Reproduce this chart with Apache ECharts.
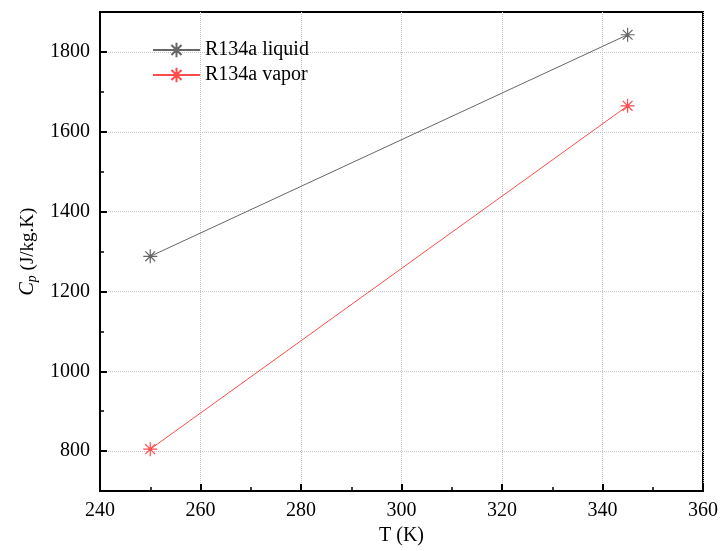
<!DOCTYPE html>
<html>
<head>
<meta charset="utf-8">
<script src="https://cdn.jsdelivr.net/npm/echarts@6/dist/echarts.min.js"></script>
<style>
  html, body { margin: 0; padding: 0; background: #fff; }
  #chart { width: 721px; height: 551px; }
</style>
</head>
<body>
<div id="chart"></div>
<script>
// Specific heat of R134a versus temperature
const temperatures = [250, 345];
const liquidCp = [1288, 1843];
const vaporCp = [805, 1665];
const xTicks = [240, 260, 280, 300, 320, 340, 360];
const yTicks = [800, 1000, 1200, 1400, 1600, 1800];
const yMinorTicks = [700, 900, 1100, 1300, 1500, 1700, 1900];

// asterisk marker drawn as strokes
const asterisk = 'path://M10,0 L10,20 M0,10 L20,10 M3,3 L17,17 M17,3 L3,17 M9,9 L11,9 L11,11 L9,11 Z';

const font = '"Liberation Serif", "Times New Roman", serif';

function pairs(xs, ys) { return xs.map((x, i) => [x, ys[i]]); }

function makeSeries(name, values, color) {
  return {
    name: name,
    type: 'line',
    data: pairs(temperatures, values),
    symbol: asterisk,
    symbolSize: 14,
    showSymbol: true,
    lineStyle: { color: color, width: 1 },
    itemStyle: { color: color, borderColor: color, borderWidth: 1.2 },
    emphasis: { disabled: true },
    z: 3
  };
}

const chart = echarts.init(document.getElementById('chart'), null, { renderer: 'canvas' });
chart.setOption({
  animation: false,
  backgroundColor: '#fff',
  grid: { left: 100, right: 17, top: 12, bottom: 57, show: true, borderColor: '#000', borderWidth: 2, backgroundColor: 'transparent' },
  legend: {
    orient: 'vertical',
    left: 147, top: 35,
    itemWidth: 47, itemHeight: 18, itemGap: 5,
    textStyle: { fontFamily: font, fontSize: 20, color: '#000', padding: [0, 0, 0, 0] },
    data: ['R134a liquid', 'R134a vapor']
  },
  xAxis: {
    type: 'value',
    min: xTicks[0], max: xTicks[xTicks.length - 1], interval: 20,
    name: 'T (K)', nameLocation: 'middle', nameGap: 33,
    nameTextStyle: { fontFamily: font, fontSize: 20, color: '#000' },
    axisLine: { lineStyle: { color: '#000', width: 2 } },
    axisTick: { inside: true, length: 7, lineStyle: { color: '#000', width: 2 } },
    minorTick: { show: true, splitNumber: 2, length: 4, lineStyle: { color: '#000', width: 1.5 } },
    axisLabel: { fontFamily: font, fontSize: 20, color: '#000', margin: 10, formatter: v => String(v) },
    splitLine: { show: true, lineStyle: { color: '#c4c4c4', type: 'dotted', width: 1 } }
  },
  yAxis: [{
    type: 'value',
    position: 'left',
    min: 700, max: 1900, interval: 100,
    axisLabel: { fontFamily: font, fontSize: 20, color: '#000', margin: 10, customValues: yTicks, formatter: v => String(v) },
    name: '{c|C}{p|p}{u| (J/kg.K)}',
    nameLocation: 'middle', nameGap: 57, nameRotate: 90,
    nameTextStyle: {
      fontFamily: font, color: '#000',
      rich: {
        c: { fontFamily: font, fontSize: 20, fontStyle: 'italic', color: '#000' },
        p: { fontFamily: font, fontSize: 14, fontStyle: 'italic', color: '#000', verticalAlign: 'bottom', padding: [8, 0, 0, 0] },
        u: { fontFamily: font, fontSize: 19, color: '#000' }
      }
    },
    axisLine: { lineStyle: { color: '#000', width: 2 } },
    axisTick: { inside: true, length: 7, customValues: yTicks, lineStyle: { color: '#000', width: 2 } },
    minorTick: { show: false },
    splitLine: { show: true, lineStyle: { color: '#c4c4c4', type: 'dotted', width: 1 } }
  }, {
    // half-step ticks between the labelled values
    type: 'value',
    position: 'left',
    offset: 0,
    min: 700, max: 1900, interval: 100,
    axisLine: { show: false },
    axisLabel: { show: false },
    axisTick: { show: true, inside: true, length: 4, customValues: yMinorTicks, lineStyle: { color: '#000', width: 1.5 } },
    splitLine: { show: false }
  }],
  series: [
    makeSeries('R134a liquid', liquidCp, '#666666'),
    makeSeries('R134a vapor', vaporCp, '#ff4d4d')
  ]
});
</script>
</body>
</html>
